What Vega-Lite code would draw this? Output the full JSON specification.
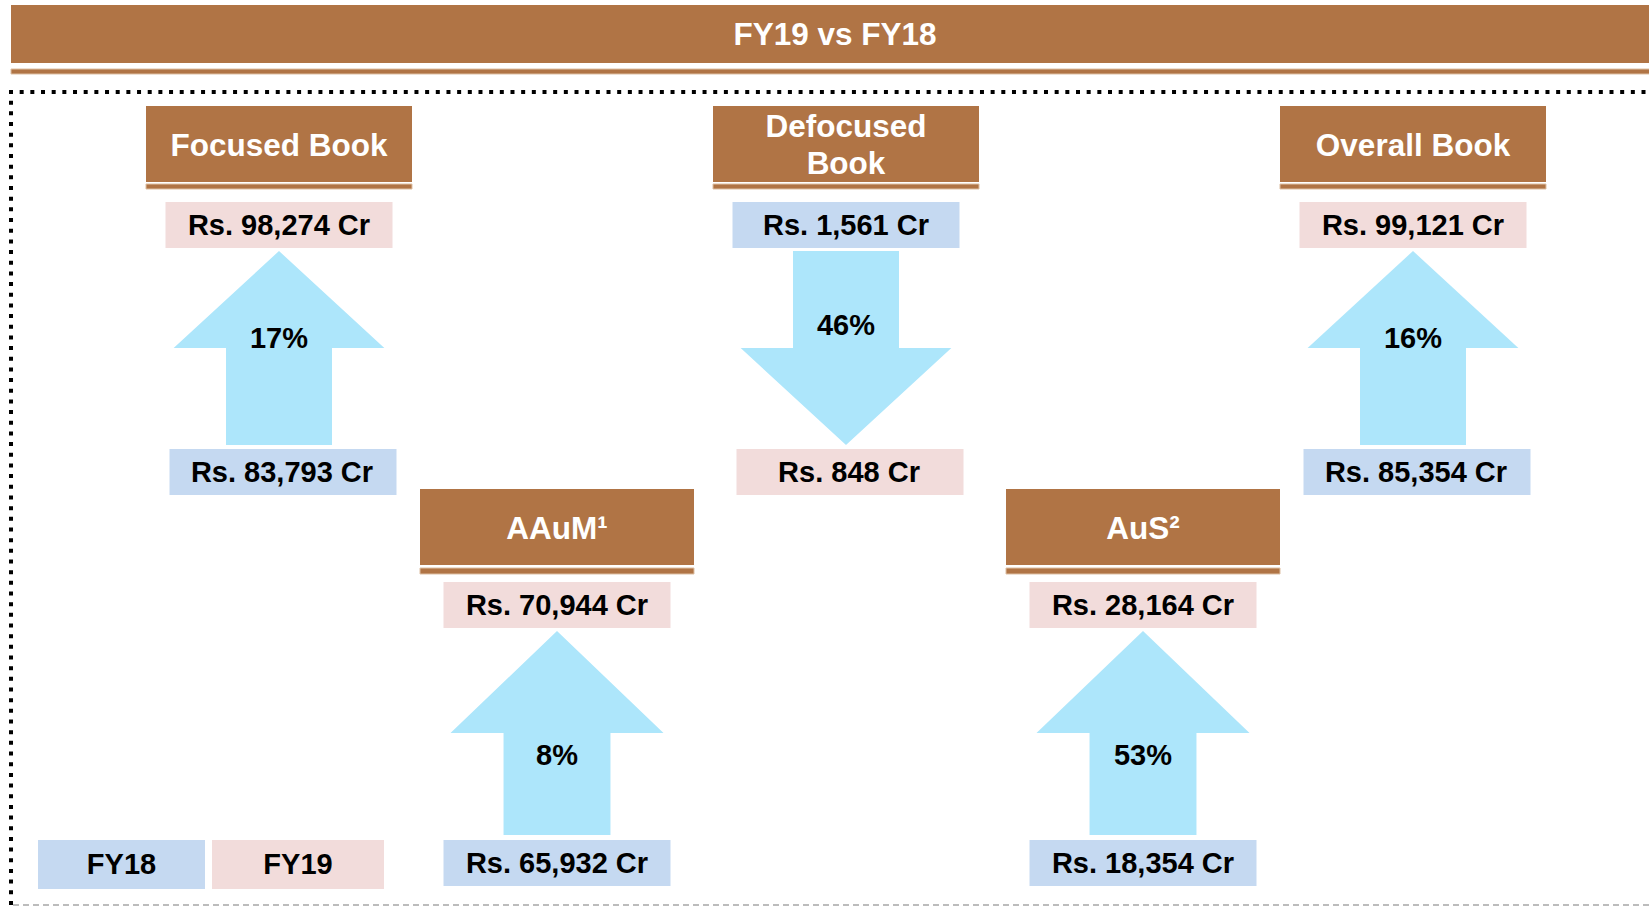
{
  "$schema": "https://vega.github.io/schema/vega-lite/v6.json",
  "width": 1649,
  "height": 907,
  "autosize": {"type": "fit", "contains": "padding"},
  "padding": 0,
  "background": "white",
  "config": {"view": {"stroke": null}, "axis": {"disable": true}, "legend": {"disable": true}, "text": {"font": "Liberation Sans", "fontWeight": "bold"}},
  "datasets": {
    "panels": [
      {"metric": "Focused Book", "label": ["Focused Book"], "col": 1, "row": 1, "dir": "up", "change": "17%"},
      {"metric": "Defocused Book", "label": ["Defocused", "Book"], "col": 3, "row": 1, "dir": "down", "change": "46%"},
      {"metric": "Overall Book", "label": ["Overall Book"], "col": 5, "row": 1, "dir": "up", "change": "16%"},
      {"metric": "AAuM", "label": ["AAuM¹"], "col": 2, "row": 2, "dir": "up", "change": "8%"},
      {"metric": "AuS", "label": ["AuS²"], "col": 4, "row": 2, "dir": "up", "change": "53%"}
    ],
    "values": [
      {"metric": "Focused Book", "col": 1, "row": 1, "dir": "up", "year": "FY18", "crore": 83793, "amount": "Rs. 83,793 Cr"},
      {"metric": "Focused Book", "col": 1, "row": 1, "dir": "up", "year": "FY19", "crore": 98274, "amount": "Rs. 98,274 Cr"},
      {"metric": "Defocused Book", "col": 3, "row": 1, "dir": "down", "year": "FY18", "crore": 1561, "amount": "Rs. 1,561 Cr"},
      {"metric": "Defocused Book", "col": 3, "row": 1, "dir": "down", "year": "FY19", "crore": 848, "amount": "Rs. 848 Cr"},
      {"metric": "Overall Book", "col": 5, "row": 1, "dir": "up", "year": "FY18", "crore": 85354, "amount": "Rs. 85,354 Cr"},
      {"metric": "Overall Book", "col": 5, "row": 1, "dir": "up", "year": "FY19", "crore": 99121, "amount": "Rs. 99,121 Cr"},
      {"metric": "AAuM", "col": 2, "row": 2, "dir": "up", "year": "FY18", "crore": 65932, "amount": "Rs. 65,932 Cr"},
      {"metric": "AAuM", "col": 2, "row": 2, "dir": "up", "year": "FY19", "crore": 70944, "amount": "Rs. 70,944 Cr"},
      {"metric": "AuS", "col": 4, "row": 2, "dir": "up", "year": "FY18", "crore": 18354, "amount": "Rs. 18,354 Cr"},
      {"metric": "AuS", "col": 4, "row": 2, "dir": "up", "year": "FY19", "crore": 28164, "amount": "Rs. 28,164 Cr"}
    ],
    "legend": [{"year": "FY18"}, {"year": "FY19"}]
  },
  "layer": [
    {
      "data": {"values": [{"title": "FY19 vs FY18"}]},
      "mark": {"type": "rect", "color": "#B07445", "xOffset": -268, "x2Offset": 240, "yOffset": -101, "y2Offset": -43},
      "encoding": {
        "x": {"datum": 1, "type": "quantitative", "scale": {"domain": [1, 2, 3, 4, 5], "range": [279, 557, 846, 1143, 1413], "zero": false, "nice": false}},
        "x2": {"datum": 5},
        "y": {"datum": 1, "type": "quantitative", "scale": {"domain": [1, 2], "range": [106, 489], "zero": false, "nice": false}},
        "y2": {"datum": 1},
        "color": {"datum": "FY18", "type": "nominal", "scale": {"domain": ["FY18", "FY19"], "range": ["#C5D9F1", "#F2DCDB"]}, "condition": {"test": "true", "value": "#B07445"}}
      }
    },
    {
      "data": {"values": [{"title": "FY19 vs FY18"}]},
      "mark": {"type": "text", "color": "white", "fontSize": 31.5, "align": "center", "baseline": "middle", "xOffset": -11, "yOffset": -70.5},
      "encoding": {"x": {"datum": 3, "type": "quantitative"}, "y": {"datum": 1, "type": "quantitative"}, "text": {"field": "title", "type": "nominal"}}
    },
    {
      "data": {"values": [{"title": "FY19 vs FY18"}]},
      "mark": {"type": "rect", "color": "#B07445", "stroke": "#DDBFA3", "strokeWidth": 1, "xOffset": -268, "x2Offset": 240, "yOffset": -37, "y2Offset": -32},
      "encoding": {"x": {"datum": 1, "type": "quantitative"}, "x2": {"datum": 5}, "y": {"datum": 1, "type": "quantitative"}, "y2": {"datum": 1}}
    },
    {
      "data": {"values": [{"frame": "top"}]},
      "mark": {"type": "rule", "color": "black", "strokeWidth": 4, "strokeDash": [4, 6.67], "strokeCap": "butt", "xOffset": -270, "x2Offset": 240, "yOffset": -14},
      "encoding": {"x": {"datum": 1, "type": "quantitative"}, "x2": {"datum": 5}, "y": {"datum": 1, "type": "quantitative"}}
    },
    {
      "data": {"values": [{"frame": "left"}]},
      "mark": {"type": "rule", "color": "black", "strokeWidth": 4, "strokeDash": [4, 6.67], "strokeCap": "butt", "xOffset": -268, "yOffset": -16, "y2Offset": 420},
      "encoding": {"x": {"datum": 1, "type": "quantitative"}, "y": {"datum": 1, "type": "quantitative"}, "y2": {"datum": 2}}
    },
    {
      "data": {"values": [{"frame": "bottom"}]},
      "mark": {"type": "rule", "color": "#A6A6A6", "strokeWidth": 1.5, "strokeDash": [6, 4], "xOffset": -266, "x2Offset": 240, "yOffset": 416},
      "encoding": {"x": {"datum": 1, "type": "quantitative"}, "x2": {"datum": 5}, "y": {"datum": 2, "type": "quantitative"}}
    },
    {
      "encoding": {
        "x": {"field": "col", "type": "quantitative"},
        "y": {"field": "row", "type": "quantitative"}
      },
      "layer": [
        {
          "data": {"name": "panels"},
          "transform": [{"filter": "datum.row == 1"}],
          "mark": {"type": "rect", "color": "#B07445", "xOffset": -133, "x2Offset": 133, "yOffset": 0, "y2Offset": 76},
          "encoding": {"x2": {"field": "col"}, "y2": {"field": "row"}}
        },
        {
          "data": {"name": "panels"},
          "transform": [{"filter": "datum.row == 1"}],
          "mark": {"type": "rect", "color": "#B07445", "stroke": "#DDBFA3", "strokeWidth": 1, "xOffset": -133, "x2Offset": 133, "yOffset": 78, "y2Offset": 83},
          "encoding": {"x2": {"field": "col"}, "y2": {"field": "row"}}
        },
        {
          "data": {"name": "panels"},
          "transform": [{"filter": "datum.row == 2"}],
          "mark": {"type": "rect", "color": "#B07445", "xOffset": -137, "x2Offset": 137, "yOffset": 0, "y2Offset": 76},
          "encoding": {"x2": {"field": "col"}, "y2": {"field": "row"}}
        },
        {
          "data": {"name": "panels"},
          "transform": [{"filter": "datum.row == 2"}],
          "mark": {"type": "rect", "color": "#B07445", "stroke": "#DDBFA3", "strokeWidth": 1, "xOffset": -137, "x2Offset": 137, "yOffset": 79, "y2Offset": 85},
          "encoding": {"x2": {"field": "col"}, "y2": {"field": "row"}}
        },
        {
          "data": {"name": "panels"},
          "transform": [{"filter": "length(datum.label) == 1"}],
          "mark": {"type": "text", "color": "white", "fontSize": 31.5, "align": "center", "baseline": "middle", "yOffset": 40.5},
          "encoding": {"text": {"field": "label", "type": "nominal"}}
        },
        {
          "data": {"name": "panels"},
          "transform": [{"filter": "length(datum.label) > 1"}],
          "mark": {"type": "text", "color": "white", "fontSize": 31.5, "align": "center", "baseline": "middle", "lineHeight": 37, "yOffset": 22},
          "encoding": {"text": {"field": "label", "type": "nominal"}}
        },
        {
          "data": {"name": "values"},
          "transform": [{"filter": "datum.row == 1 && ((datum.dir == 'up' && datum.year == 'FY19') || (datum.dir == 'down' && datum.year == 'FY18'))"}],
          "mark": {"type": "rect", "xOffset": -113.5, "x2Offset": 113.5, "yOffset": 96, "y2Offset": 142},
          "encoding": {"x2": {"field": "col"}, "y2": {"field": "row"}, "color": {"field": "year", "type": "nominal"}}
        },
        {
          "data": {"name": "values"},
          "transform": [{"filter": "datum.row == 1 && !((datum.dir == 'up' && datum.year == 'FY19') || (datum.dir == 'down' && datum.year == 'FY18'))"}],
          "mark": {"type": "rect", "xOffset": -109.5, "x2Offset": 117.5, "yOffset": 343, "y2Offset": 389},
          "encoding": {"x2": {"field": "col"}, "y2": {"field": "row"}, "color": {"field": "year", "type": "nominal"}}
        },
        {
          "data": {"name": "values"},
          "transform": [{"filter": "datum.row == 2 && ((datum.dir == 'up' && datum.year == 'FY19') || (datum.dir == 'down' && datum.year == 'FY18'))"}],
          "mark": {"type": "rect", "xOffset": -113.5, "x2Offset": 113.5, "yOffset": 93, "y2Offset": 139},
          "encoding": {"x2": {"field": "col"}, "y2": {"field": "row"}, "color": {"field": "year", "type": "nominal"}}
        },
        {
          "data": {"name": "values"},
          "transform": [{"filter": "datum.row == 2 && !((datum.dir == 'up' && datum.year == 'FY19') || (datum.dir == 'down' && datum.year == 'FY18'))"}],
          "mark": {"type": "rect", "xOffset": -113.5, "x2Offset": 113.5, "yOffset": 351, "y2Offset": 397},
          "encoding": {"x2": {"field": "col"}, "y2": {"field": "row"}, "color": {"field": "year", "type": "nominal"}}
        },
        {
          "data": {"name": "values"},
          "transform": [{"filter": "datum.row == 1 && ((datum.dir == 'up' && datum.year == 'FY19') || (datum.dir == 'down' && datum.year == 'FY18'))"}],
          "mark": {"type": "text", "color": "black", "fontSize": 29, "align": "center", "baseline": "middle", "yOffset": 120},
          "encoding": {"text": {"field": "amount", "type": "nominal"}}
        },
        {
          "data": {"name": "values"},
          "transform": [{"filter": "datum.row == 1 && !((datum.dir == 'up' && datum.year == 'FY19') || (datum.dir == 'down' && datum.year == 'FY18'))"}],
          "mark": {"type": "text", "color": "black", "fontSize": 29, "align": "center", "baseline": "middle", "xOffset": 3, "yOffset": 367},
          "encoding": {"text": {"field": "amount", "type": "nominal"}}
        },
        {
          "data": {"name": "values"},
          "transform": [{"filter": "datum.row == 2 && ((datum.dir == 'up' && datum.year == 'FY19') || (datum.dir == 'down' && datum.year == 'FY18'))"}],
          "mark": {"type": "text", "color": "black", "fontSize": 29, "align": "center", "baseline": "middle", "yOffset": 117},
          "encoding": {"text": {"field": "amount", "type": "nominal"}}
        },
        {
          "data": {"name": "values"},
          "transform": [{"filter": "datum.row == 2 && !((datum.dir == 'up' && datum.year == 'FY19') || (datum.dir == 'down' && datum.year == 'FY18'))"}],
          "mark": {"type": "text", "color": "black", "fontSize": 29, "align": "center", "baseline": "middle", "yOffset": 375},
          "encoding": {"text": {"field": "amount", "type": "nominal"}}
        },
        {
          "data": {"name": "panels"},
          "transform": [{"filter": "datum.row == 1 && datum.dir == 'up'"}],
          "mark": {"type": "point", "shape": "M0,-0.9207L1,0L0.503,0L0.503,0.9207L-0.503,0.9207L-0.503,0L-1,0Z", "size": 44394, "filled": true, "color": "#ADE6FB", "opacity": 1, "strokeWidth": 0, "yOffset": 242}
        },
        {
          "data": {"name": "panels"},
          "transform": [{"filter": "datum.row == 1 && datum.dir == 'down'"}],
          "mark": {"type": "point", "shape": "M-0.503,-0.9207L0.503,-0.9207L0.503,0L1,0L0,0.9207L-1,0L-0.503,0Z", "size": 44394, "filled": true, "color": "#ADE6FB", "opacity": 1, "strokeWidth": 0, "yOffset": 242}
        },
        {
          "data": {"name": "panels"},
          "transform": [{"filter": "datum.row == 2 && datum.dir == 'up'"}],
          "mark": {"type": "point", "shape": "M0,-0.958L1,0L0.502,0L0.502,0.958L-0.502,0.958L-0.502,0L-1,0Z", "size": 45369, "filled": true, "color": "#ADE6FB", "opacity": 1, "strokeWidth": 0, "yOffset": 244}
        },
        {
          "data": {"name": "panels"},
          "transform": [{"filter": "datum.row == 1 && datum.dir == 'up'"}],
          "mark": {"type": "text", "color": "black", "fontSize": 29, "align": "center", "baseline": "middle", "yOffset": 232.5},
          "encoding": {"text": {"field": "change", "type": "nominal"}}
        },
        {
          "data": {"name": "panels"},
          "transform": [{"filter": "datum.row == 1 && datum.dir == 'down'"}],
          "mark": {"type": "text", "color": "black", "fontSize": 29, "align": "center", "baseline": "middle", "yOffset": 219.5},
          "encoding": {"text": {"field": "change", "type": "nominal"}}
        },
        {
          "data": {"name": "panels"},
          "transform": [{"filter": "datum.row == 2 && datum.dir == 'up'"}],
          "mark": {"type": "text", "color": "black", "fontSize": 29, "align": "center", "baseline": "middle", "yOffset": 266.5},
          "encoding": {"text": {"field": "change", "type": "nominal"}}
        }
      ]
    },
    {
      "data": {"name": "legend"},
      "transform": [{"filter": "datum.year == 'FY18'"}],
      "mark": {"type": "rect", "xOffset": -241, "x2Offset": -74, "yOffset": 351, "y2Offset": 400},
      "encoding": {"x": {"datum": 1, "type": "quantitative"}, "x2": {"datum": 1}, "y": {"datum": 2, "type": "quantitative"}, "y2": {"datum": 2}, "color": {"field": "year", "type": "nominal"}}
    },
    {
      "data": {"name": "legend"},
      "transform": [{"filter": "datum.year == 'FY19'"}],
      "mark": {"type": "rect", "xOffset": -67, "x2Offset": 105, "yOffset": 351, "y2Offset": 400},
      "encoding": {"x": {"datum": 1, "type": "quantitative"}, "x2": {"datum": 1}, "y": {"datum": 2, "type": "quantitative"}, "y2": {"datum": 2}, "color": {"field": "year", "type": "nominal"}}
    },
    {
      "data": {"name": "legend"},
      "transform": [{"filter": "datum.year == 'FY18'"}],
      "mark": {"type": "text", "color": "black", "fontSize": 29, "align": "center", "baseline": "middle", "xOffset": -157.5, "yOffset": 375.5},
      "encoding": {"x": {"datum": 1, "type": "quantitative"}, "y": {"datum": 2, "type": "quantitative"}, "text": {"field": "year", "type": "nominal"}}
    },
    {
      "data": {"name": "legend"},
      "transform": [{"filter": "datum.year == 'FY19'"}],
      "mark": {"type": "text", "color": "black", "fontSize": 29, "align": "center", "baseline": "middle", "xOffset": 19, "yOffset": 375.5},
      "encoding": {"x": {"datum": 1, "type": "quantitative"}, "y": {"datum": 2, "type": "quantitative"}, "text": {"field": "year", "type": "nominal"}}
    }
  ]
}
